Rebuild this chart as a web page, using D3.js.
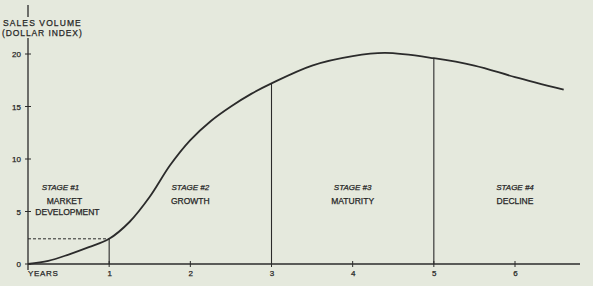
<!DOCTYPE html>
<html><head><meta charset="utf-8">
<script src="https://cdn.jsdelivr.net/npm/d3@7"></script>
<style>
html,body{margin:0;padding:0;background:#e5e9dd;}
svg{display:block;}
text{font-family:"Liberation Sans",Arial,sans-serif;fill:#262626;stroke:#262626;stroke-width:0.25;}
</style></head><body>
<svg id="c" width="593" height="286"></svg>
<script>
const years  = [0, 0.25, 0.5, 0.75, 1, 1.25, 1.5, 1.75, 2, 2.25, 2.5, 2.75, 3, 3.5, 4, 4.4, 5, 5.5, 6, 6.6];
const values = [0, 0.3, 0.9, 1.6, 2.4, 4.0, 6.4, 9.4, 11.8, 13.6, 15.0, 16.2, 17.2, 18.9, 19.8, 20.1, 19.6, 18.9, 17.8, 16.6];
const xTicks = [1, 2, 3, 4, 5, 6];
const yTicks = [0, 5, 10, 15, 20];
const stageBoundaries = [1, 3, 5];
const stageTitles = ["STAGE #1", "STAGE #2", "STAGE #3", "STAGE #4"];
const stageNames = [["MARKET", "DEVELOPMENT"], ["GROWTH"], ["MATURITY"], ["DECLINE"]];
const stageCenters = [0.4, 2, 4, 6];

const svg = d3.select("#c");
const ink = "#2b2b2b";
const x = d3.scaleLinear().domain([0, 6]).range([28, 515]);
const y = d3.scaleLinear().domain([0, 20]).range([264, 54]);
const data = years.map((d, i) => ({ yr: d, v: values[i] }));
const interp = d3.scaleLinear().domain(years).range(values);

// axes lines
svg.append("line").attr("x1", x(0)).attr("x2", 580).attr("y1", y(0)).attr("y2", y(0))
  .attr("stroke", ink).attr("stroke-width", 1.3);
svg.append("line").attr("x1", x(0)).attr("x2", x(0)).attr("y1", 5).attr("y2", 270)
  .attr("stroke", ink).attr("stroke-width", 1.3);

// y ticks
const yAxis = d3.axisLeft(y).tickValues(yTicks).tickFormat(d3.format("d")).tickSize(0).tickPadding(7);
const ya = svg.append("g").attr("transform", `translate(${x(0)},0)`).call(yAxis);
ya.select(".domain").remove();
ya.selectAll("text").attr("font-size", 8).style("font-family", '"Liberation Sans",Arial,sans-serif');
svg.selectAll(".ytick").data(yTicks).join("line").attr("class", "ytick")
  .attr("x1", x(0) - 3).attr("x2", x(0) + 3).attr("y1", d => y(d)).attr("y2", d => y(d))
  .attr("stroke", ink).attr("stroke-width", 1);

// x ticks
const xAxis = d3.axisBottom(x).tickValues(xTicks).tickFormat(d3.format("d")).tickSize(0).tickPadding(6);
const xa = svg.append("g").attr("transform", `translate(0,${y(0)})`).call(xAxis);
xa.select(".domain").remove();
xa.selectAll("text").attr("font-size", 8).style("font-family", '"Liberation Sans",Arial,sans-serif');
svg.selectAll(".xtick").data(xTicks).join("line").attr("class", "xtick")
  .attr("x1", d => x(d)).attr("x2", d => x(d)).attr("y1", y(0) - 3).attr("y2", y(0) + 3)
  .attr("stroke", ink).attr("stroke-width", 1);
svg.append("text").attr("x", 28).attr("y", 276).attr("font-size", 8).attr("letter-spacing", 0.7).text("YEARS");

// y label with background
const lbl = svg.append("g");
lbl.append("rect").attr("x", 2).attr("y", 17).attr("width", 90).attr("height", 21).attr("fill", "#e5e9dd");
lbl.append("text").attr("x", 3).attr("y", 26).attr("font-size", 8.5).attr("letter-spacing", 1.1).text("SALES VOLUME");
lbl.append("text").attr("x", 2).attr("y", 36).attr("font-size", 8.5).attr("letter-spacing", 0.9).text("(DOLLAR INDEX)");

// stage dividers
svg.selectAll(".div").data(stageBoundaries).join("line").attr("class", "div")
  .attr("x1", d => x(d)).attr("x2", d => x(d)).attr("y1", y(0)).attr("y2", d => y(interp(d)))
  .attr("stroke", ink).attr("stroke-width", 1.1);

// dashed line at end of stage 1
svg.append("line").attr("x1", x(0)).attr("x2", x(1)).attr("y1", y(interp(1))).attr("y2", y(interp(1)))
  .attr("stroke", ink).attr("stroke-width", 1).attr("stroke-dasharray", "3,2");

// curve
const line = d3.line().x(d => x(d.yr)).y(d => y(d.v)).curve(d3.curveCatmullRom.alpha(0.5));
svg.append("path").datum(data).attr("d", line).attr("fill", "none")
  .attr("stroke", ink).attr("stroke-width", 1.8);

// stage labels
stageTitles.forEach((t, i) => {
  const cx = x(stageCenters[i]);
  svg.append("text").attr("x", cx).attr("y", 190).attr("text-anchor", "middle")
    .attr("font-size", 8).attr("font-style", "italic").text(t);
  stageNames[i].forEach((n, j) => {
    svg.append("text").attr("x", cx + (i === 0 ? 4 + j * 3 : 0)).attr("y", 204 + j * 11).attr("text-anchor", "middle")
      .attr("font-size", 8.5).text(n);
  });
});
</script>
</body></html>
